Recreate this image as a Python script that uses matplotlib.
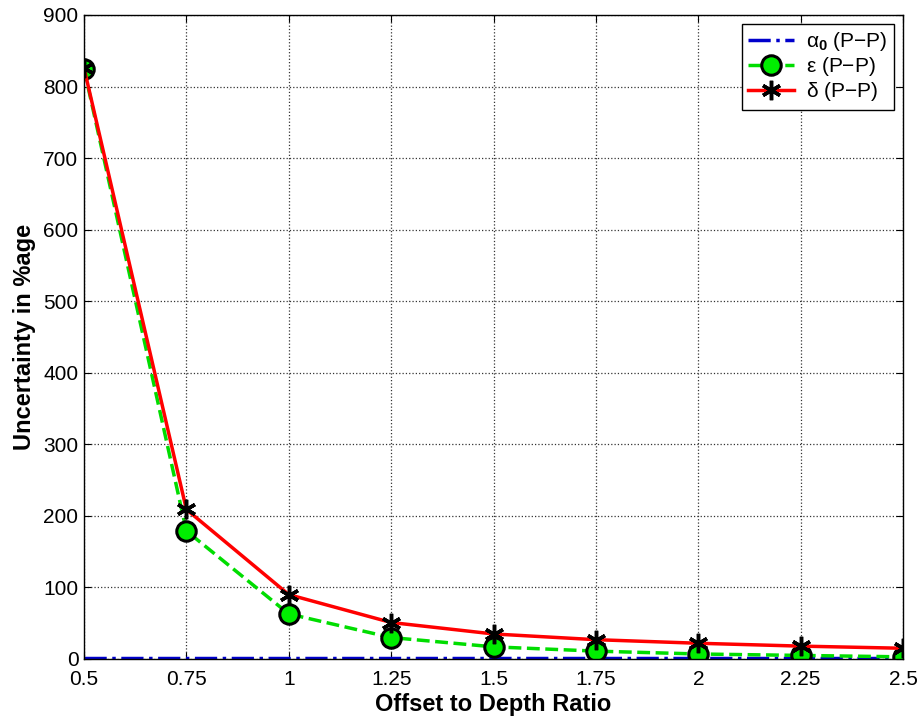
import matplotlib
matplotlib.use("Agg")
import matplotlib.pyplot as plt

plt.rcParams['font.family'] = ['Liberation Sans', 'DejaVu Sans']
plt.rcParams['mathtext.fontset'] = 'custom'
plt.rcParams['mathtext.rm'] = 'Liberation Sans'
plt.rcParams['mathtext.bf'] = 'Liberation Sans:bold'
plt.rcParams['mathtext.it'] = 'Liberation Sans:italic'

ratio = [0.5, 0.75, 1.0, 1.25, 1.5, 1.75, 2.0, 2.25, 2.5]
alpha0 = [1.5, 1.5, 1.5, 1.5, 1.5, 1.5, 1.5, 1.5, 1.5]
epsilon = [825, 179, 63, 30, 17, 11, 7, 5, 3]
delta = [826, 209, 90, 51, 35, 27, 22, 18, 15]
xticks = [0.5, 0.75, 1, 1.25, 1.5, 1.75, 2, 2.25, 2.5]
xticklabels = ['0.5', '0.75', '1', '1.25', '1.5', '1.75', '2', '2.25', '2.5']
yticks = [0, 100, 200, 300, 400, 500, 600, 700, 800, 900]

W, H = 922, 723
fig = plt.figure(figsize=(W / 100, H / 100), dpi=100)
L, R, T, B = 84, 903, 15, 659
ax = fig.add_axes([L / W, 1 - B / H, (R - L) / W, (B - T) / H])

ax.plot(ratio, alpha0, color='#0000cc', linestyle='-.', linewidth=2.5,
        label=r'α$_\mathbf{0}$ (P$-$P)')
ax.plot(ratio, epsilon, color='#00dd00', linestyle='--', linewidth=2.5, marker='o',
        markersize=14, markerfacecolor='#00ee00', markeredgecolor='black', markeredgewidth=2.2,
        label='ε (P$-$P)')
ax.plot(ratio, delta, color='red', linestyle='-', linewidth=2.5, marker=(6, 2, 0),
        markersize=14, markeredgecolor='black', markeredgewidth=2.5,
        label='δ (P$-$P)')

ax.set_xlim(0.5, 2.5)
ax.set_ylim(0, 900)
ax.set_xticks(xticks)
ax.set_xticklabels(xticklabels)
ax.set_yticks(yticks)
ax.grid(True, linestyle=':', color='#333333', linewidth=0.9)
ax.tick_params(direction='in', labelsize=15, length=5, top=True, right=True)
ax.tick_params(axis='x', pad=8)
ax.tick_params(axis='y', pad=4)
for s in ax.spines.values():
    s.set_linewidth(1.0)
ax.set_xlabel('Offset to Depth Ratio', fontsize=17, fontweight='bold', labelpad=3)
ax.set_ylabel('Uncertainty in %age', fontsize=17, fontweight='bold', labelpad=5)

leg = ax.legend(loc='upper right', bbox_to_anchor=((894 - L) / (R - L), (B - 24) / (B - T)),
                fontsize=15, fancybox=False, edgecolor='black',
                framealpha=1, handlelength=2.2, borderpad=0.3, labelspacing=0.1,
                handletextpad=0.6, borderaxespad=0)
leg.get_frame().set_linewidth(1.0)

fig.savefig('out.png', dpi=100)
